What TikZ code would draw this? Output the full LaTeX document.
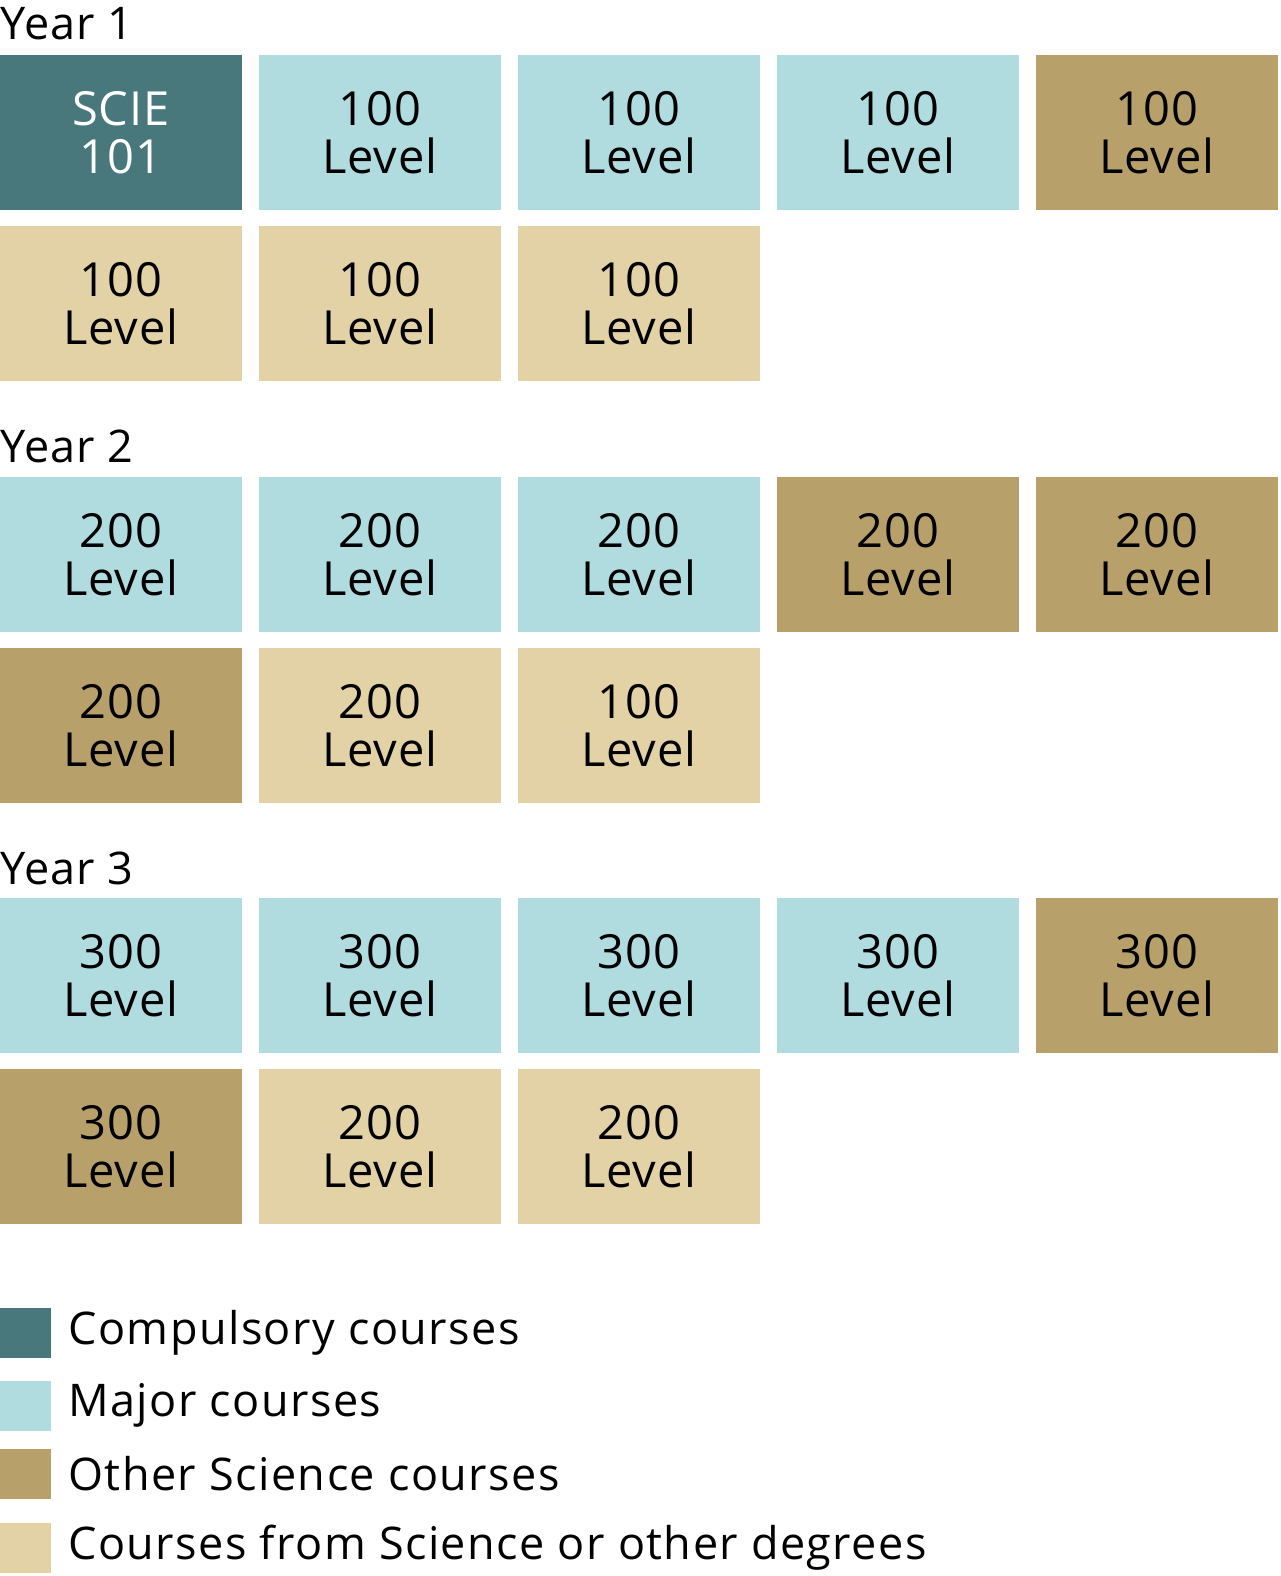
\documentclass[tikz,border=0pt]{standalone}
\usepackage{fontspec}
\setmainfont{Open Sans}
\usepackage{xcolor}
\usetikzlibrary{positioning}

\definecolor{compteal}{HTML}{48787B}
\definecolor{majorblue}{HTML}{B0DCE0}
\definecolor{scitan}{HTML}{B8A06A}
\definecolor{otherbeige}{HTML}{E3D2A6}

\begin{document}
\begin{tikzpicture}[
    x=1pt, y=-1pt,
    course/.style={rectangle, inner sep=0pt, minimum width=242pt, minimum height=155pt, align=center, font=\fontsize{47}{48}\selectfont\addfontfeatures{LetterSpace=2}},
    compbox/.style={course, fill=compteal, text=white},
    majorbox/.style={course, fill=majorblue},
    scibox/.style={course, fill=scitan},
    otherbox/.style={course, fill=otherbeige},
    yearlabel/.style={anchor=base west, inner sep=0pt, font=\fontsize{45}{45}\selectfont\addfontfeatures{LetterSpace=2}},
    keybox/.style={rectangle, inner sep=0pt, minimum width=51pt, minimum height=50pt},
    keytext/.style={right=17pt of #1, inner sep=0pt, font=\fontsize{45}{45}\selectfont\addfontfeatures{LetterSpace=3.2}}
]
\useasboundingbox (0,0) rectangle (1280,1576);

% Year 1
\node[yearlabel] (year1) at (0,40) {Year 1};
\node[compbox] (y1a) at (121,132.5) {SCIE\\101};
\node[majorbox] (y1b) at (380,132.5) {100\\Level};
\node[majorbox] (y1c) at (639,132.5) {100\\Level};
\node[majorbox] (y1d) at (898,132.5) {100\\Level};
\node[scibox] (y1e) at (1157,132.5) {100\\Level};
\node[otherbox] (y1f) at (121,303.5) {100\\Level};
\node[otherbox] (y1g) at (380,303.5) {100\\Level};
\node[otherbox] (y1h) at (639,303.5) {100\\Level};

% Year 2
\node[yearlabel] (year2) at (0,462) {Year 2};
\node[majorbox] (y2a) at (121,554.5) {200\\Level};
\node[majorbox] (y2b) at (380,554.5) {200\\Level};
\node[majorbox] (y2c) at (639,554.5) {200\\Level};
\node[scibox] (y2d) at (898,554.5) {200\\Level};
\node[scibox] (y2e) at (1157,554.5) {200\\Level};
\node[scibox] (y2f) at (121,725.5) {200\\Level};
\node[otherbox] (y2g) at (380,725.5) {200\\Level};
\node[otherbox] (y2h) at (639,725.5) {100\\Level};

% Year 3
\node[yearlabel] (year3) at (0,884) {Year 3};
\node[majorbox] (y3a) at (121,975.5) {300\\Level};
\node[majorbox] (y3b) at (380,975.5) {300\\Level};
\node[majorbox] (y3c) at (639,975.5) {300\\Level};
\node[majorbox] (y3d) at (898,975.5) {300\\Level};
\node[scibox] (y3e) at (1157,975.5) {300\\Level};
\node[scibox] (y3f) at (121,1146.5) {300\\Level};
\node[otherbox] (y3g) at (380,1146.5) {200\\Level};
\node[otherbox] (y3h) at (639,1146.5) {200\\Level};

% Legend
\node[keybox, fill=compteal] (keycomp) at (25.5,1333) {};
\node[keybox, fill=majorblue] (keymajor) at (25.5,1405.5) {};
\node[keybox, fill=scitan] (keysci) at (25.5,1474) {};
\node[keybox, fill=otherbeige] (keyother) at (25.5,1548) {};
\node[keytext=keycomp] (lcomp) {Compulsory courses};
\node[keytext=keymajor] (lmajor) {Major courses};
\node[keytext=keysci] (lsci) {Other Science courses};
\node[keytext=keyother] (lother) {Courses from Science or other degrees};

\end{tikzpicture}
\end{document}
